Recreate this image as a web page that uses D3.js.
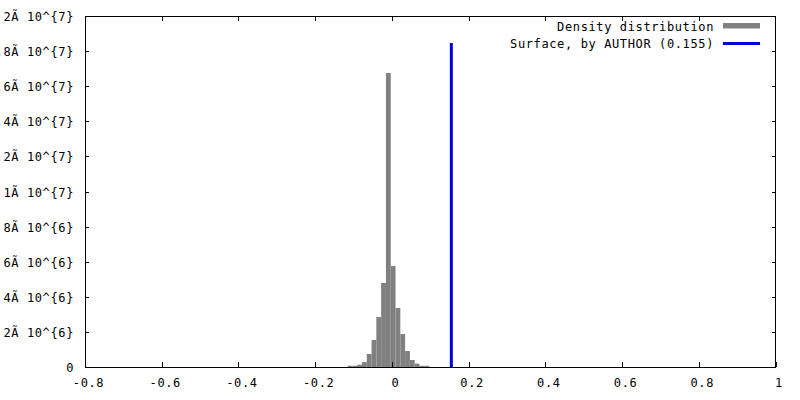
<!DOCTYPE html>
<html><head><meta charset="utf-8">
<script src="https://cdn.jsdelivr.net/npm/d3@7"></script>
<style>
body{margin:0;background:#fff}
text{font-family:"DejaVu Sans Mono","Liberation Mono",monospace;font-size:12px;letter-spacing:0.62px;fill:#000}
</style>
</head><body><svg id="c" width="800" height="400"></svg>
<script>
// ---- data ----
const binStart = -0.1155;
const binWidth = 0.0125;
const densityValues = [0.07e6, 0.07e6, 0.13e6, 0.28e6, 0.74e6, 1.54e6, 2.85e6, 4.79e6,
  16.75e6, 5.75e6, 3.36e6, 1.88e6, 0.91e6, 0.40e6, 0.19e6, 0.07e6, 0.07e6];
const surfaceValue = 0.155;
const surfaceTop = 1.846e7;
const xTicks = [-0.8, -0.6, -0.4, -0.2, 0, 0.2, 0.4, 0.6, 0.8, 1];
const xTickLabels = ["-0.8", "-0.6", "-0.4", "-0.2", "0", "0.2", "0.4", "0.6", "0.8", "1"];
const yTicks = [0, 2e6, 4e6, 6e6, 8e6, 1e7, 1.2e7, 1.4e7, 1.6e7, 1.8e7, 2e7];
const yTickLabels = ["0", "2Ã 10^{6}", "4Ã 10^{6}", "6Ã 10^{6}", "8Ã 10^{6}", "1Ã 10^{7}",
  "1.2Ã 10^{7}", "1.4Ã 10^{7}", "1.6Ã 10^{7}", "1.8Ã 10^{7}", "2Ã 10^{7}"];
const legendLabels = ["Density distribution", "Surface, by AUTHOR (0.155)"];

// ---- layout ----
const L = 85, R = 775.5, T = 16, B = 367;
const svg = d3.select("#c");
const x = d3.scaleLinear().domain([-0.8, 1]).range([L, R]);
const y = d3.scaleLinear().domain([0, 2e7]).range([B, T]);

// bars
svg.append("g").selectAll("rect").data(densityValues).join("rect")
  .attr("x", (d, i) => x(binStart + i * binWidth))
  .attr("width", (d, i) => x(binStart + (i + 1) * binWidth) - x(binStart + i * binWidth))
  .attr("y", d => y(d))
  .attr("height", d => y(0) - y(d))
  .attr("fill", "#808080");

// surface line
svg.append("line")
  .attr("x1", x(surfaceValue)).attr("x2", x(surfaceValue))
  .attr("y1", y(0)).attr("y2", y(surfaceTop))
  .attr("stroke", "#0000dd").attr("stroke-width", 3);

// axes
function styleAxis(g) {
  g.select(".domain").remove();
  g.selectAll(".tick line").attr("stroke", "#000").attr("shape-rendering", "crispEdges");
}
const xb = svg.append("g").attr("transform", `translate(0,${B})`)
  .call(d3.axisBottom(x).tickValues(xTicks).tickFormat((d, i) => xTickLabels[i]).tickSizeInner(-5).tickSizeOuter(0))
  .call(styleAxis);
xb.selectAll(".tick text").attr("y", 20).attr("dy", 0).attr("dx", 3)
  .attr("font-family", null).attr("font-size", null).attr("text-anchor", "middle");

svg.append("g").attr("transform", `translate(0,${T})`)
  .call(d3.axisTop(x).tickValues(xTicks.slice(1, -1)).tickFormat("").tickSizeInner(-5).tickSizeOuter(0))
  .call(styleAxis);

const yl = svg.append("g").attr("transform", `translate(${L},0)`)
  .call(d3.axisLeft(y).tickValues(yTicks).tickFormat((d, i) => yTickLabels[i]).tickSizeInner(-4).tickSizeOuter(0))
  .call(styleAxis);
yl.selectAll(".tick text").attr("x", -11).attr("dy", 4.5)
  .attr("font-family", null).attr("font-size", null).attr("text-anchor", "end");

svg.append("g").attr("transform", `translate(${R},0)`)
  .call(d3.axisRight(y).tickValues(yTicks.slice(1, -1)).tickFormat("").tickSizeInner(-4).tickSizeOuter(0))
  .call(styleAxis);

// frame
svg.append("rect").attr("x", L).attr("y", T).attr("width", R - L).attr("height", B - T)
  .attr("fill", "none").attr("stroke", "#000").attr("shape-rendering", "crispEdges");

// legend
const lg = svg.append("g");
lg.append("text").attr("x", 714).attr("y", 31).attr("text-anchor", "end").text(legendLabels[0]);
lg.append("rect").attr("x", 723).attr("y", 23).attr("width", 37).attr("height", 5.5).attr("fill", "#808080");
lg.append("text").attr("x", 714).attr("y", 48).attr("text-anchor", "end").text(legendLabels[1]);
lg.append("line").attr("x1", 723).attr("x2", 760).attr("y1", 43.5).attr("y2", 43.5)
  .attr("stroke", "#0000dd").attr("stroke-width", 3);
</script>
</body></html>
